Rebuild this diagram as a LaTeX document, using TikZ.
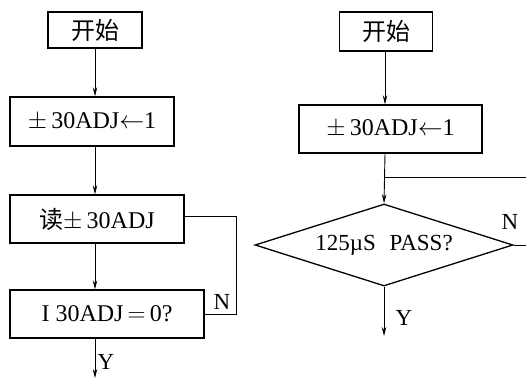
\documentclass[tikz,border=0pt]{standalone}
\usepackage{fontspec}
\setmainfont{Liberation Serif}
\newfontfamily\cjk{Noto Sans CJK SC}
\usepackage{tikz}
\usetikzlibrary{positioning,calc}
\usetikzlibrary{shapes.geometric}
\usetikzlibrary{arrows.meta}

\tikzset{
  blk/.style={draw=black, line width=1.3pt, inner sep=0pt, font=\fontsize{24}{28}\selectfont},
  dec/.style={draw=black, line width=1.3pt, shape=diamond, aspect=3.15, inner sep=0pt,
              minimum width=258pt, minimum height=82pt, font=\fontsize{23}{27}\selectfont},
  flow/.style={line width=0.9pt, -{Stealth[length=9pt,width=4.5pt]}},
  back/.style={line width=0.8pt},
  lbl/.style={font=\fontsize{23}{27}\selectfont, inner sep=0pt}
}

\begin{document}
\begin{tikzpicture}[x=1pt, y=1pt]
  \useasboundingbox (0,0) rectangle (526,-380);

  % left flow
  \node[blk, minimum width=94pt, minimum height=36pt] (start1) at (95,-30) {\cjk 开始};
  \node[blk, minimum width=164pt, minimum height=49pt] (set1) at (92,-121.5) {${\pm}\,$30ADJ$\leftarrow$1};
  \node[blk, minimum width=174pt, minimum height=48pt] (read1) at (97,-219) {{\cjk 读}${\pm}\,$30ADJ};
  \node[blk, minimum width=194pt, minimum height=48pt] (test1) at (107,-314) {I 30ADJ$\,=\,$0?};
  \coordinate (out1) at (95,-378);
  \coordinate (fb1) at (236,-216);

  \draw[flow] (start1.south) -- (start1.south |- set1.north);
  \draw[flow] (start1 |- set1.south) -- (start1 |- read1.north);
  \draw[flow] (start1 |- read1.south) -- (start1 |- test1.north);
  \draw[flow] (start1 |- test1.south) -- (out1);
  \draw[back] (read1.east |- fb1) -- (fb1) |- (test1.east);
  \node[lbl] (n1) at (222,-302) {N};
  \node[lbl] (y1) at (106,-362) {Y};

  % right flow
  \node[blk, minimum width=93pt, minimum height=39pt] (start2) at (386,-31.5) {\cjk 开始};
  \node[blk, minimum width=183pt, minimum height=48pt] (set2) at (390.5,-129) {${\pm}\,$30ADJ$\leftarrow$1};
  \node[dec] (pass2) at (384,-245) {125µS\hspace{0.6em}PASS?};
  \coordinate (j2) at (385,-177);
  \coordinate (jr2) at (526,-177);
  \coordinate (nr2) at (526,-245);
  \coordinate (out2) at (384,-336);

  \draw[flow] (start2.south -| j2) -- (j2 |- set2.north);
  \draw[flow] (j2 |- set2.south) -- (pass2.north);
  \draw[back] (j2) -- (jr2);
  \draw[back] (pass2.east) -- (nr2);
  \draw[flow] (pass2.south) -- (out2);
  \node[lbl] (n2) at (510,-222) {N};
  \node[lbl] (y2) at (404,-318) {Y};
\end{tikzpicture}
\end{document}
